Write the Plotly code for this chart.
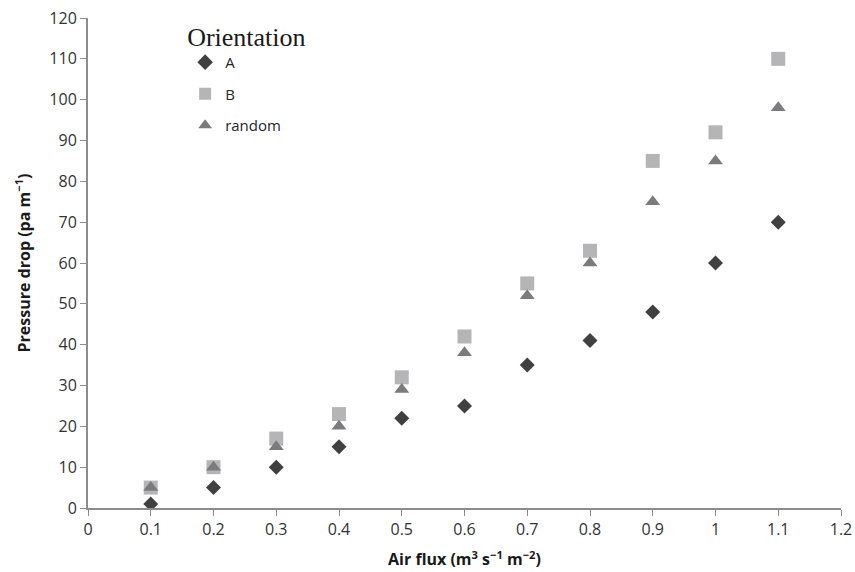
import plotly.graph_objects as go

air_flux = [0.1, 0.2, 0.3, 0.4, 0.5, 0.6, 0.7, 0.8, 0.9, 1.0, 1.1]
orient_a = [1, 5, 10, 15, 22, 25, 35, 41, 48, 60, 70]
orient_b = [5, 10, 17, 23, 32, 42, 55, 63, 85, 92, 110]
orient_random = [5, 10, 15, 20, 29, 38, 52, 60, 75, 85, 98]

x_ticks = [0, 0.1, 0.2, 0.3, 0.4, 0.5, 0.6, 0.7, 0.8, 0.9, 1.0, 1.1, 1.2]
x_tick_labels = ["0", "0.1", "0.2", "0.3", "0.4", "0.5", "0.6", "0.7", "0.8", "0.9", "1", "1.1", "1.2"]

fig = go.Figure()
fig.add_trace(go.Scatter(x=air_flux, y=orient_b, mode="markers", name="B",
                         legendgroup="b", legendrank=2,
                         marker=dict(symbol="square", size=14, color="#b5b5b7")))
fig.add_trace(go.Scatter(x=air_flux, y=orient_random, mode="markers", name="random",
                         legendgroup="r", legendrank=3,
                         marker=dict(symbol="triangle-up", size=13, color="#7b7b7d")))
fig.add_trace(go.Scatter(x=air_flux, y=orient_a, mode="markers", name="A",
                         legendgroup="a", legendrank=1,
                         marker=dict(symbol="diamond", size=11.5, color="#404040")))

font_sans = "Open Sans, Liberation Sans, sans-serif"
fig.update_layout(
    width=855, height=572,
    margin=dict(l=88, r=14, t=18, b=64),
    plot_bgcolor="white", paper_bgcolor="white",
    font=dict(family=font_sans, size=15, color="#262626"),
    showlegend=True,
    legend=dict(
        x=0.129, y=1.012, xanchor="left", yanchor="top",
        title=dict(text="Orientation", font=dict(family="Liberation Serif, Times New Roman, serif", size=26, color="#1a1a1a")),
        font=dict(family=font_sans, size=15, color="#262626"),
        traceorder="grouped", tracegroupgap=9,
        bgcolor="rgba(0,0,0,0)", itemsizing="constant",
    ),
    xaxis=dict(
        range=[0, 1.2], tickmode="array", tickvals=x_ticks, ticktext=x_tick_labels,
        showgrid=False, zeroline=False, showline=True, linecolor="#8c8c8c", linewidth=2,
        ticks="outside", ticklen=6, tickcolor="#8c8c8c", tickwidth=1,
        tickfont=dict(size=16, color="#333333"), automargin=False,
        ticklabeloverflow="allow",
        title=dict(text="<b>Air flux (m<sup>3</sup> s<sup>\u22121</sup> m<sup>\u22122</sup>)</b>",
                   font=dict(size=16, color="#1a1a1a")),
    ),
    yaxis=dict(
        range=[0, 120], dtick=10,
        showgrid=False, zeroline=False, showline=True, linecolor="#8c8c8c", linewidth=2,
        ticks="outside", ticklen=6, tickcolor="#8c8c8c", tickwidth=1,
        tickfont=dict(size=16, color="#333333"), automargin=False,
        ticklabeloverflow="allow",
        title=dict(text="<b>Pressure drop (pa m<sup>\u22121</sup>)</b>",
                   font=dict(size=16, color="#1a1a1a")),
    ),
)

fig.write_html("out.html", config={"displayModeBar": False},
               post_script="document.body.style.margin='0';document.body.style.overflow='hidden';")
